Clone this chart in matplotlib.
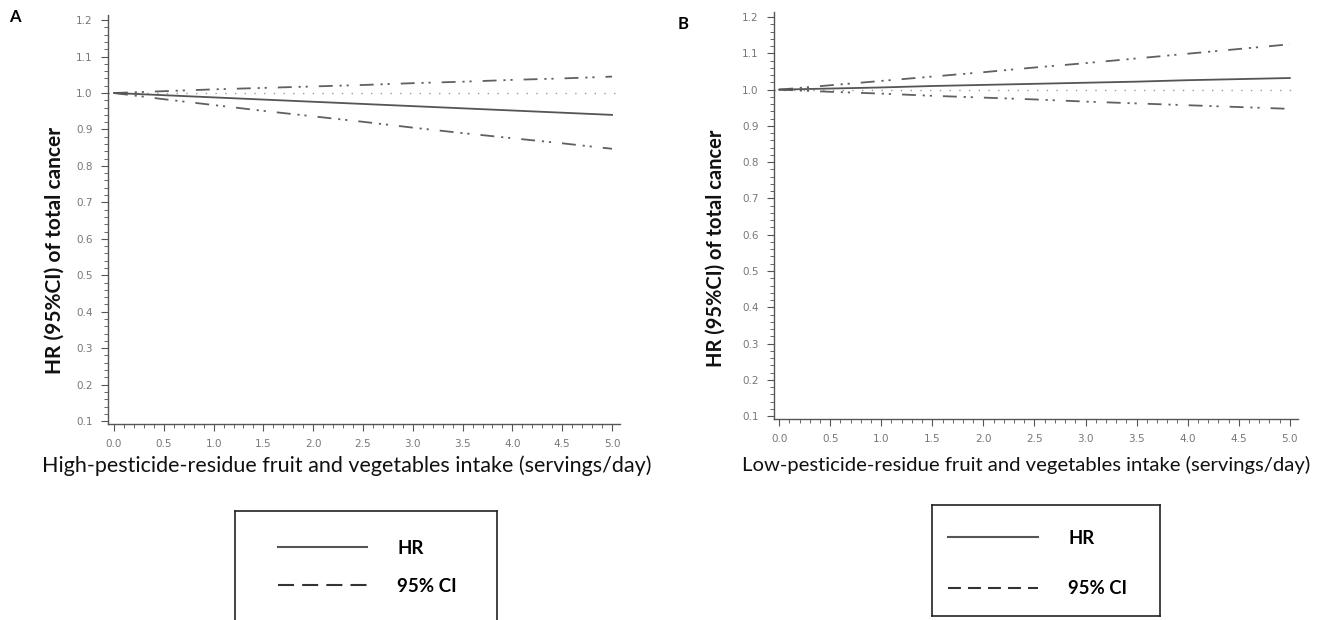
import matplotlib
matplotlib.use('Agg')
import matplotlib.pyplot as plt
from matplotlib.lines import Line2D
from matplotlib.ticker import MultipleLocator, AutoMinorLocator

plt.rcParams['font.family'] = ['Lato', 'DejaVu Sans']

# intake (servings/day)
intake = [0.0, 0.5, 1.0, 1.5, 2.0, 2.5, 3.0, 3.5, 4.0, 4.5, 5.0]

# panel A: high-pesticide-residue
hr_high = [1.000, 0.994, 0.988, 0.982, 0.976, 0.970, 0.964, 0.958, 0.952, 0.946, 0.940]
upper_high = [1.000, 1.005, 1.010, 1.014, 1.018, 1.022, 1.027, 1.031, 1.036, 1.040, 1.045]
lower_high = [1.000, 0.983, 0.967, 0.951, 0.936, 0.921, 0.905, 0.890, 0.876, 0.862, 0.847]

# panel B: low-pesticide-residue
hr_low = [1.000, 1.003, 1.006, 1.010, 1.013, 1.016, 1.019, 1.022, 1.026, 1.029, 1.032]
upper_low = [1.000, 1.012, 1.024, 1.036, 1.048, 1.061, 1.073, 1.086, 1.099, 1.112, 1.125]
lower_low = [1.000, 0.994, 0.989, 0.983, 0.978, 0.973, 0.967, 0.962, 0.957, 0.952, 0.947]

xlabels = ['High-pesticide-residue fruit and vegetables intake (servings/day)',
           'Low-pesticide-residue fruit and vegetables intake (servings/day)']
ylabel = 'HR (95%CI) of total cancer'
legend_labels = ['HR', '95% CI']

W, H = 1341, 620
fig = plt.figure(figsize=(W / 100, H / 100), dpi=100)


def px_axes(l, t, r, b):
    return fig.add_axes([l / W, 1 - b / H, (r - l) / W, (b - t) / H])


ci_style = (0, (7.7, 3.8, 1.2, 2.7, 1.2, 6.1))


def panel(ax, hr, up, lo, xlabel, xlim, xlab_pos, ylab_pos, xfs, yfs):
    ax.axhline(1.0, color='#999999', lw=1.0, ls=(0, (1, 6)))
    ax.plot(intake, up, color='#606060', lw=1.3, ls=ci_style)
    ax.plot(intake, lo, color='#606060', lw=1.3, ls=ci_style)
    ax.plot(intake, hr, color='#555555', lw=1.3)
    ax.set_xlim(*xlim)
    ax.set_ylim(0.092, 1.214)
    ax.xaxis.set_major_locator(MultipleLocator(0.5))
    ax.xaxis.set_minor_locator(AutoMinorLocator(5))
    ax.yaxis.set_major_locator(MultipleLocator(0.1))
    ax.yaxis.set_minor_locator(AutoMinorLocator(5))
    ax.xaxis.set_major_formatter(lambda v, p: f'{v:.1f}')
    ax.yaxis.set_major_formatter(lambda v, p: f'{v:.1f}')
    for s in ['top', 'right']:
        ax.spines[s].set_visible(False)
    for s in ['left', 'bottom']:
        ax.spines[s].set_color('#555555')
        ax.spines[s].set_linewidth(1.0)
    ax.tick_params(which='major', length=5, width=0.8, color='#555555',
                   labelsize=7.5, labelcolor='#777777', pad=6)
    ax.tick_params(which='minor', length=3, width=0.7, color='#666666')
    for t in ax.get_xticklabels() + ax.get_yticklabels():
        t.set_family('DejaVu Sans')
    ax.set_xlabel(xlabel, fontsize=xfs, color='#111111')
    ax.xaxis.set_label_coords(*xlab_pos)
    ax.set_ylabel(ylabel, fontsize=yfs, fontweight='bold', color='#111111')
    ax.yaxis.set_label_coords(*ylab_pos)


axA = px_axes(108, 15, 620, 424)
panel(axA, hr_high, upper_high, lower_high, xlabels[0], (-0.06, 5.08),
      (0.467, -0.078), (-0.084, 0.425), 15.5, 15)

axB = px_axes(774, 12, 1298, 419)
panel(axB, hr_low, upper_low, lower_low, xlabels[1], (-0.05, 5.08),
      (0.481, -0.091), (-0.092, 0.42), 14.6, 14.5)

fig.text(15 / W, 1 - 17 / H, 'A', fontsize=12, fontweight='bold', ha='center', va='center')
fig.text(683 / W, 1 - 24 / H, 'B', fontsize=12, fontweight='bold', ha='center', va='center')


def legend_box(l, t, r, b, anchor, fs, hl, spacing, dash):
    lax = px_axes(l, t, r, b)
    lax.set_xticks([])
    lax.set_yticks([])
    lax.patch.set_alpha(0)
    for s in lax.spines.values():
        s.set_color('#222222')
        s.set_linewidth(1.2)
    handles = [Line2D([], [], color='#555555', lw=1.5),
               Line2D([], [], color='#333333', lw=1.5, ls=(0, dash))]
    leg = lax.legend(handles, legend_labels, loc='upper left', frameon=False,
                     bbox_to_anchor=anchor, borderaxespad=0, borderpad=0,
                     fontsize=fs, handlelength=hl, handletextpad=1.6,
                     labelspacing=spacing)
    for t in leg.get_texts():
        t.set_fontweight('bold')
    return lax


legend_box(235, 511, 497, 660, (0.164, 0.805), 13.5, 4.75, 1.1, (7.7, 3.9))
legend_box(932, 505, 1160, 616, (0.07, 0.777), 13.3, 4.9, 1.82, (6.2, 3.4))

fig.savefig('out.png', dpi=100)
